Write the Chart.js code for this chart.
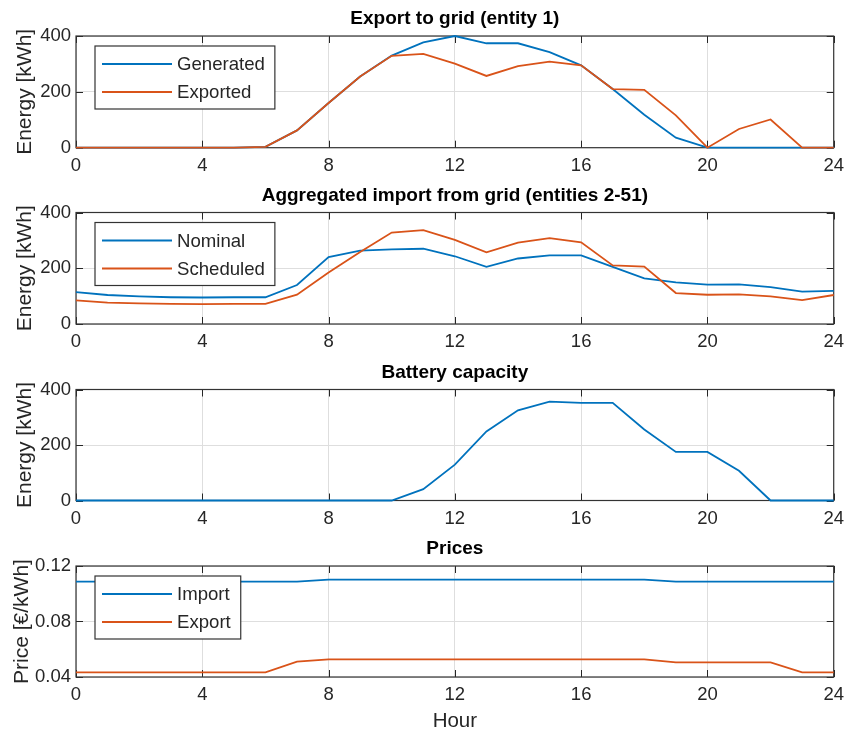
<!DOCTYPE html>
<html>
<head>
<meta charset="utf-8">
<script src="https://cdn.jsdelivr.net/npm/chart.js@4.4.1/dist/chart.umd.min.js"></script>
<style>
  html, body { margin: 0; padding: 0; background: #ffffff; }
  #wrap { position: relative; width: 851px; height: 734px; overflow: hidden; background: #fff; }
  .panel { position: absolute; left: 0; width: 851px; }
</style>
</head>
<body>
<div id="wrap">
  <div class="panel" style="top:0px;height:177px"><canvas id="c1"></canvas></div>
  <div class="panel" style="top:177px;height:176px"><canvas id="c2"></canvas></div>
  <div class="panel" style="top:353px;height:177px"><canvas id="c3"></canvas></div>
  <div class="panel" style="top:530px;height:204px"><canvas id="c4"></canvas></div>
</div>
<script>
// ---------------- DATA ----------------
const hours = [0,1,2,3,4,5,6,7,8,9,10,11,12,13,14,15,16,17,18,19,20,21,22,23,24];
const xTicks = [0,4,8,12,16,20,24];
const energyTicks = [0,200,400];
const priceTicks = [0.04,0.08,0.12];

const generated = [0,0,0,0,0,0,3,62,160,255,330,377,400,374,374,342,295,210,118,36,0,0,0,0,0];
const exported  = [0,0,0,0,0,0,3,62,160,255,329,336,301,257,292,308,295,210,207,116,0,67,101,0,0];

const nominal   = [114,104,99,96,95,96,96,140,240,263,268,270,243,205,235,246,246,205,164,149,141,142,132,116,119];
const scheduled = [85,77,74,72,71,72,72,105,185,258,328,337,302,257,292,308,293,210,206,111,105,106,99,86,104];

const battery   = [0,0,0,0,0,0,0,0,0,0,0,41,129,249,325,356,352,352,256,175,175,107,0,0,0];

const importPrice = [0.1087,0.1087,0.1087,0.1087,0.1087,0.1087,0.1087,0.1087,0.1102,0.1102,0.1102,0.1102,0.1102,0.1102,0.1102,0.1102,0.1102,0.1102,0.1102,0.1087,0.1087,0.1087,0.1087,0.1087,0.1087];
const exportPrice = [0.0434,0.0434,0.0434,0.0434,0.0434,0.0434,0.0434,0.0511,0.0527,0.0527,0.0527,0.0527,0.0527,0.0527,0.0527,0.0527,0.0527,0.0527,0.0527,0.0506,0.0506,0.0506,0.0506,0.0434,0.0434];

const titles = ["Export to grid (entity 1)", "Aggregated import from grid (entities 2-51)", "Battery capacity", "Prices"];
const yLabels = ["Energy [kWh]", "Energy [kWh]", "Energy [kWh]", "Price [€/kWh]"];
const xLabel = "Hour";

// ---------------- STYLE ----------------
const BLUE = '#0072BD';
const ORANGE = '#D95319';
const AXIS = '#262626';
const GRID = '#dedede';
const FONT = '"Liberation Sans", Arial, Helvetica, sans-serif';
Chart.defaults.font.family = FONT;
Chart.defaults.color = AXIS;

const PLOT_LEFT = 76, PLOT_RIGHT = 837, PAGE_W = 851;

const matlabPlugin = {
  id: 'matlabLook',
  beforeDatasetsDraw(chart) {
    const {ctx, chartArea: a, scales} = chart;
    ctx.save();
    // ticks pointing inward
    ctx.strokeStyle = AXIS;
    ctx.lineWidth = 1;
    const tl = 7;
    ctx.beginPath();
    scales.x.ticks.forEach(t => {
      const px = Math.round(scales.x.getPixelForValue(t.value)) + 0.5;
      ctx.moveTo(px, a.bottom); ctx.lineTo(px, a.bottom - tl);
      ctx.moveTo(px, a.top); ctx.lineTo(px, a.top + tl);
    });
    scales.y.ticks.forEach(t => {
      const py = Math.round(scales.y.getPixelForValue(t.value)) + 0.5;
      ctx.moveTo(a.left, py); ctx.lineTo(a.left + tl, py);
      ctx.moveTo(a.right, py); ctx.lineTo(a.right - tl, py);
    });
    ctx.stroke();
    // box
    ctx.strokeStyle = '#333333';
    ctx.lineWidth = 1.2;
    ctx.strokeRect(a.left, a.top, a.right - a.left, a.bottom - a.top);
    ctx.restore();
  },
  afterDatasetsDraw(chart, args, opts) {
    const {ctx, chartArea: a} = chart;
    ctx.save();
    if (opts.legend) {
      const fs = 18.6;
      ctx.font = fs + 'px ' + FONT;
      const ds = chart.data.datasets;
      let maxW = 0;
      ds.forEach(d => { maxW = Math.max(maxW, ctx.measureText(d.label).width); });
      const bx = a.left + 19, by = a.top + 10;
      const bw = 82 + maxW + 10, bh = 63;
      ctx.fillStyle = '#ffffff';
      ctx.fillRect(bx, by, bw, bh);
      ctx.strokeStyle = '#333333';
      ctx.lineWidth = 1.2;
      ctx.strokeRect(bx, by, bw, bh);
      ds.forEach((d, i) => {
        const ry = by + 18 + i * 28;
        ctx.strokeStyle = d.borderColor;
        ctx.lineWidth = 1.8;
        ctx.beginPath();
        ctx.moveTo(bx + 7, ry); ctx.lineTo(bx + 77, ry);
        ctx.stroke();
        ctx.fillStyle = AXIS;
        ctx.textAlign = 'left';
        ctx.textBaseline = 'middle';
        ctx.fillText(d.label, bx + 82, ry + 1);
      });
    }
    // title
    ctx.font = 'bold 19px ' + FONT;
    ctx.fillStyle = '#000000';
    ctx.textAlign = 'center';
    ctx.textBaseline = 'middle';
    ctx.fillText(opts.title, (a.left + a.right) / 2, a.top - 17);
    ctx.restore();
  }
};

function makeChart(id, canvasTop, canvasH, plotTop, plotBottom, title, yLabel, yTicks, fmt, series, legend, yPad, xTitle) {
  const xh = canvasH - (plotBottom - canvasTop);
  const datasets = series.map((s, i) => ({
    label: s.label,
    data: hours.map((h, k) => ({x: h, y: s.values[k]})),
    borderColor: s.color,
    backgroundColor: s.color,
    borderWidth: 1.8,
    pointRadius: 0,
    tension: 0,
    fill: false,
    clip: 4,
    order: series.length - 1 - i
  }));
  return new Chart(document.getElementById(id), {
    type: 'line',
    data: {datasets},
    options: {
      responsive: true,
      maintainAspectRatio: false,
      animation: false,
      events: [],
      layout: {padding: {top: plotTop - canvasTop, left: 0, right: PAGE_W - PLOT_RIGHT, bottom: 0}},
      plugins: {
        legend: {display: false},
        tooltip: {enabled: false},
        matlabLook: {title: title, legend: legend}
      },
      scales: {
        x: {
          type: 'linear', min: 0, max: 24,
          afterBuildTicks: s => { s.ticks = xTicks.map(v => ({value: v})); },
          afterFit: s => { s.height = xh; },
          grid: {color: GRID, lineWidth: 1, drawTicks: false},
          border: {display: false},
          ticks: {padding: 7, color: AXIS, maxRotation: 0, autoSkip: false, font: {size: 18.5}},
          title: {display: !!xTitle, text: xTitle || '', color: AXIS, font: {size: 20.5}, padding: {top: 0, bottom: 0}}
        },
        y: {
          type: 'linear', min: yTicks[0], max: yTicks[yTicks.length - 1],
          afterBuildTicks: s => { s.ticks = yTicks.map(v => ({value: v})); },
          afterFit: s => { s.width = PLOT_LEFT; },
          grid: {color: GRID, lineWidth: 1, drawTicks: false},
          border: {display: false},
          ticks: {padding: 5, color: AXIS, font: {size: 18.5}, callback: v => fmt(v)},
          title: {display: true, text: yLabel, color: AXIS, font: {size: 21}, padding: {top: yPad, bottom: 0}}
        }
      }
    },
    plugins: [matlabPlugin]
  });
}

const fmtE = v => String(Math.round(v));
const fmtP = v => v.toFixed(2);

makeChart('c1', 0, 177, 36, 147.7, titles[0], yLabels[0], energyTicks, fmtE,
  [{label: 'Generated', values: generated, color: BLUE}, {label: 'Exported', values: exported, color: ORANGE}], true, 12.4);
makeChart('c2', 177, 176, 212.5, 324, titles[1], yLabels[1], energyTicks, fmtE,
  [{label: 'Nominal', values: nominal, color: BLUE}, {label: 'Scheduled', values: scheduled, color: ORANGE}], true, 12.4);
makeChart('c3', 353, 177, 389.5, 500.5, titles[2], yLabels[2], energyTicks, fmtE,
  [{label: 'Battery', values: battery, color: BLUE}], false, 12.4);
makeChart('c4', 530, 204, 566, 677, titles[3], yLabels[3], priceTicks, fmtP,
  [{label: 'Import', values: importPrice, color: BLUE}, {label: 'Export', values: exportPrice, color: ORANGE}], true, 9.9, xLabel);
</script>
</body>
</html>
